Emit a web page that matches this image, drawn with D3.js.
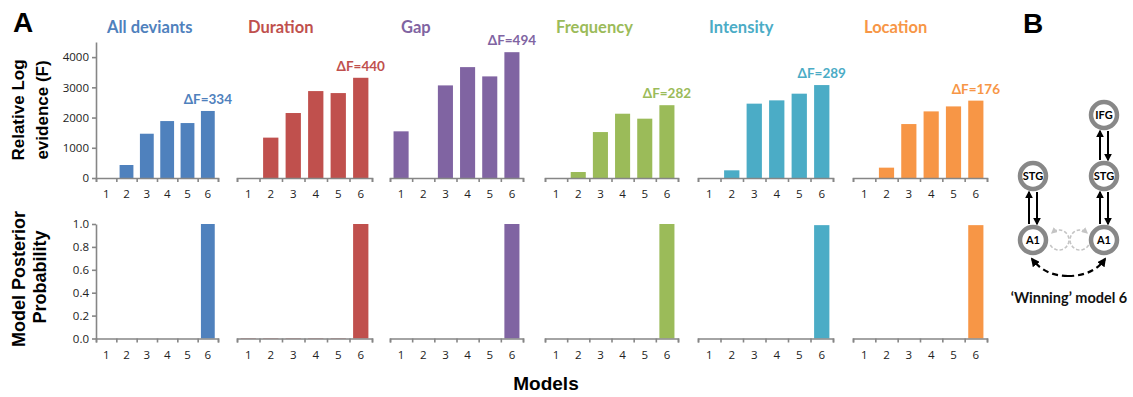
<!DOCTYPE html>
<html>
<head>
<meta charset="utf-8">
<script src="https://cdn.jsdelivr.net/npm/d3@7"></script>
<style>
  body { margin: 0; background: #fff; }
  svg { display: block; }
  .tick text { font-family: "Open Sans", Lato, sans-serif; font-size: 11.5px; fill: #222; }
</style>
</head>
<body>
<div id="chart"></div>
<script>
// data
var models = [1, 2, 3, 4, 5, 6];
var conditions = ["All deviants", "Duration", "Gap", "Frequency", "Intensity", "Location"];
var colors = ["#4F81BD", "#C0504D", "#8064A2", "#9BBB59", "#4BACC6", "#F79646"];

var evidenceAll = [0, 430, 1465, 1884, 1818, 2218];
var evidenceDuration = [0, 1336, 2150, 2876, 2810, 3316];
var evidenceGap = [1544, 0, 3064, 3669, 3362, 4163];
var evidenceFrequency = [0, 198, 1520, 2127, 1963, 2409];
var evidenceIntensity = [0, 254, 2460, 2569, 2790, 3075];
var evidenceLocation = [0, 342, 1785, 2204, 2369, 2560];
var deltaF = [334, 440, 494, 282, 289, 176];

var postAll = [0, 0, 0, 0, 0, 1.0];
var postDuration = [0.004, 0.004, 0.004, 0.004, 0.004, 1.0];
var postGap = [0, 0, 0, 0, 0, 1.0];
var postFrequency = [0, 0, 0, 0, 0, 1.0];
var postIntensity = [0, 0, 0, 0, 0, 0.99];
var postLocation = [0, 0, 0, 0, 0, 0.99];

var evidenceTicks = [0, 1000, 2000, 3000, 4000];
var probTicks = [0, 0.2, 0.4, 0.6, 0.8, 1.0];

var evidence = [evidenceAll, evidenceDuration, evidenceGap, evidenceFrequency, evidenceIntensity, evidenceLocation];
var posterior = [postAll, postDuration, postGap, postFrequency, postIntensity, postLocation];

var W = 1133, H = 397;
var axisColor = "#868686";
var titleFont = "Lato, 'Open Sans', sans-serif";
var boldFont = "'Liberation Sans', Arial, sans-serif";

// panel layout
var panelLeft = [96, 237, 390, 545, 698, 853];
var panelRight = [218, 372, 523, 678, 833, 987];

var svg = d3.select("#chart").append("svg")
    .attr("width", W)
    .attr("height", H);

var yTop = d3.scaleLinear().domain([0, 4500]).range([178, 42]);
var yBot = d3.scaleLinear().domain([0, 1]).range([338.5, 224]);

function xAxis(g, x, edges, y) {
    // boundary ticks between models
    g.append("g")
        .attr("transform", "translate(0," + y + ")")
        .call(d3.axisBottom(edges).ticks(6).tickSize(4).tickSizeOuter(4).tickFormat(""))
        .call(a => a.selectAll("line, path").attr("stroke", axisColor).attr("stroke-width", 1.6));
    // model numbers in the middle of each band
    g.append("g")
        .attr("transform", "translate(0," + y + ")")
        .call(d3.axisBottom(x).tickSize(0).tickPadding(12))
        .call(a => a.select(".domain").remove());
}

conditions.forEach(function(name, i) {
    var x = d3.scaleBand()
        .domain(models)
        .range([panelLeft[i], panelRight[i]])
        .paddingInner(0.32)
        .paddingOuter(0.16);
    var edges = d3.scaleLinear().domain([0, 6]).range([panelLeft[i], panelRight[i]]);
    var g = svg.append("g");

    // top: relative log evidence
    g.selectAll(".ev")
        .data(evidence[i]).enter()
        .append("rect")
        .attr("x", (d, j) => x(models[j]))
        .attr("y", d => yTop(d))
        .attr("width", x.bandwidth())
        .attr("height", d => yTop(0) - yTop(d))
        .attr("fill", colors[i]);

    xAxis(g, x, edges, yTop(0));

    g.append("text")
        .attr("x", panelLeft[i] + 11)
        .attr("y", 33)
        .attr("font-family", titleFont)
        .attr("font-weight", "bold")
        .attr("font-size", 16.5)
        .attr("fill", colors[i])
        .text(name);

    g.append("text")
        .attr("x", x(6) + x.bandwidth() / 2)
        .attr("y", yTop(evidence[i][5]) - 7)
        .attr("text-anchor", "middle")
        .attr("font-family", titleFont)
        .attr("font-weight", "bold")
        .attr("font-size", 13.5)
        .attr("fill", colors[i])
        .text("\u0394F=" + deltaF[i]);

    // bottom: posterior probability
    g.selectAll(".pp")
        .data(posterior[i]).enter()
        .append("rect")
        .attr("x", (d, j) => x(models[j]))
        .attr("y", d => yBot(d))
        .attr("width", x.bandwidth())
        .attr("height", d => yBot(0) - yBot(d))
        .attr("fill", colors[i]);

    xAxis(g, x, edges, yBot(0));
});

// y axes on the first panel only
svg.append("g")
    .attr("transform", "translate(" + panelLeft[0] + ",0)")
    .call(d3.axisLeft(yTop).tickValues(evidenceTicks).tickFormat(d3.format("d")).tickSize(4).tickSizeOuter(0).tickPadding(3))
    .call(a => a.selectAll("line, path").attr("stroke", axisColor).attr("stroke-width", 1.6));

svg.append("g")
    .attr("transform", "translate(" + panelLeft[0] + ",0)")
    .call(d3.axisLeft(yBot).tickValues(probTicks).tickFormat(d3.format(".1f")).tickSize(4).tickSizeOuter(0).tickPadding(3))
    .call(a => a.selectAll("line, path").attr("stroke", axisColor).attr("stroke-width", 1.6));

// axis titles
function vTitle(x, y, size, txt) {
    svg.append("text")
        .attr("transform", "translate(" + x + "," + y + ") rotate(-90)")
        .attr("text-anchor", "middle")
        .attr("font-family", boldFont)
        .attr("font-weight", "bold")
        .attr("font-size", size)
        .text(txt);
}
vTitle(24, 110, 17, "Relative Log");
vTitle(48, 110, 17, "evidence (F)");
vTitle(25, 279, 18, "Model Posterior");
vTitle(46, 277, 18, "Probability");

svg.append("text")
    .attr("x", 546)
    .attr("y", 390)
    .attr("text-anchor", "middle")
    .attr("font-family", boldFont)
    .attr("font-weight", "bold")
    .attr("font-size", 19)
    .text("Models");

svg.append("text").attr("x", 13).attr("y", 32)
    .attr("font-family", boldFont).attr("font-weight", "bold").attr("font-size", 28).text("A");
svg.append("text").attr("x", 1023).attr("y", 33)
    .attr("font-family", boldFont).attr("font-weight", "bold").attr("font-size", 28).text("B");

// panel B: winning model diagram
var defs = svg.append("defs");
function marker(id, color) {
    defs.append("marker")
        .attr("id", id)
        .attr("viewBox", "0 0 10 10")
        .attr("refX", 8).attr("refY", 5)
        .attr("markerWidth", 4).attr("markerHeight", 4)
        .attr("orient", "auto")
        .append("path")
        .attr("d", "M0,0 L10,5 L0,10 Z")
        .attr("fill", color);
}
marker("arrowBlack", "#000");
marker("arrowGrey", "#c4c4c4");

var nodes = [
    {id: "IFG", x: 1104, y: 115},
    {id: "STG", x: 1033, y: 176},
    {id: "STG", x: 1104, y: 176},
    {id: "A1", x: 1033, y: 240},
    {id: "A1", x: 1104, y: 240}
];
var links = [[3, 1], [4, 2], [2, 0]];
var R = 15;

var diagram = svg.append("g");

links.forEach(function(l) {
    var lo = nodes[l[0]], hi = nodes[l[1]];
    diagram.append("line")
        .attr("x1", lo.x - 4).attr("x2", hi.x - 4)
        .attr("y1", lo.y - R - 1).attr("y2", hi.y + R + 1)
        .attr("stroke", "#000").attr("stroke-width", 2)
        .attr("marker-end", "url(#arrowBlack)");
    diagram.append("line")
        .attr("x1", hi.x + 4).attr("x2", lo.x + 4)
        .attr("y1", hi.y + R + 1).attr("y2", lo.y - R - 1)
        .attr("stroke", "#000").attr("stroke-width", 2)
        .attr("marker-end", "url(#arrowBlack)");
});

// grey dashed self connections, arrowheads at the top pointing back to the node
[[1059, 150, -135], [1080, 30, 315]].forEach(function(s) {
    var cx = s[0], cy = 240, r = 10;
    var a0 = s[1] * Math.PI / 180, a1 = s[2] * Math.PI / 180;
    var pts = d3.range(0, 41).map(k => {
        var a = a0 + (a1 - a0) * k / 40;
        return [cx + r * Math.cos(a), cy + r * Math.sin(a)];
    });
    diagram.append("path")
        .attr("d", d3.line()(pts))
        .attr("fill", "none")
        .attr("stroke", "#c4c4c4")
        .attr("stroke-width", 1.6)
        .attr("stroke-dasharray", "3.5,2")
        .attr("marker-end", "url(#arrowGrey)");
});

// black dashed link between the two A1 nodes
diagram.append("path")
    .attr("d", "M1068,276 Q1045,276 1032,259")
    .attr("fill", "none").attr("stroke", "#000").attr("stroke-width", 2.2)
    .attr("stroke-dasharray", "6,4")
    .attr("marker-end", "url(#arrowBlack)");
diagram.append("path")
    .attr("d", "M1068,276 Q1093,276 1105,259")
    .attr("fill", "none").attr("stroke", "#000").attr("stroke-width", 2.2)
    .attr("stroke-dasharray", "6,4")
    .attr("marker-end", "url(#arrowBlack)");

diagram.selectAll(".node")
    .data(nodes).enter()
    .append("circle")
    .attr("cx", d => d.x).attr("cy", d => d.y).attr("r", 13)
    .attr("fill", "#fff").attr("stroke", "#888").attr("stroke-width", 4.5);

diagram.selectAll(".label")
    .data(nodes).enter()
    .append("text")
    .attr("x", d => d.x).attr("y", d => d.y + 4)
    .attr("text-anchor", "middle")
    .attr("font-family", titleFont).attr("font-weight", "bold").attr("font-size", 11)
    .text(d => d.id);

svg.append("text")
    .attr("x", 1069).attr("y", 303)
    .attr("text-anchor", "middle")
    .attr("font-family", titleFont).attr("font-weight", "bold").attr("font-size", 14.5)
    .attr("fill", "#111")
    .text("\u2018Winning\u2019 model 6");
</script>
</body>
</html>
